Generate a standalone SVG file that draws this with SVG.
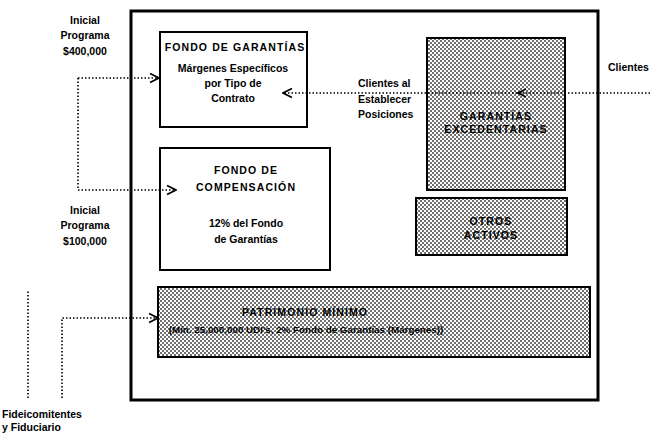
<svg xmlns="http://www.w3.org/2000/svg" width="650" height="441" viewBox="0 0 650 441">
<defs>
<pattern id="chk" width="4" height="4" patternUnits="userSpaceOnUse">
<rect width="4" height="4" fill="#ffffff"/>
<rect x="0" y="0" width="2" height="2" fill="#707070"/>
<rect x="2" y="2" width="2" height="2" fill="#707070"/>
</pattern>
<marker id="arr" viewBox="0 0 10 10" refX="9" refY="5" markerWidth="7" markerHeight="7" orient="auto-start-reverse">
<path d="M1,1 L9,5 L1,9" fill="none" stroke="#000" stroke-width="1.6"/>
</marker>
<style>
text{font-family:"Liberation Sans",Arial,sans-serif;font-weight:bold;font-size:10.5px;fill:#000}
.c{text-anchor:middle}
.cap{letter-spacing:1.1px}
.sm{font-size:9.8px}
.box{fill:#fff;stroke:#000;stroke-width:2}
.pat{fill:url(#chk);stroke:#000;stroke-width:2}
.dot{fill:none;stroke:#000;stroke-width:1.6;stroke-dasharray:1.5 2}
</style>
</defs>
<rect id="outer" x="131" y="11" width="467" height="389" fill="none" stroke="#000" stroke-width="3"/>
<g id="fondo-garantias">
<rect class="box" x="160" y="32" width="147" height="95"/>
<text class="c cap" x="235" y="51">FONDO DE GARANTÍAS</text>
<text class="c" x="233" y="72">Márgenes Específicos</text>
<text class="c" x="233" y="87">por Tipo de</text>
<text class="c" x="233" y="102">Contrato</text>
</g>
<g id="fondo-compensacion">
<rect class="box" x="160" y="148" width="170" height="122"/>
<text class="c cap" x="246" y="174">FONDO DE</text>
<text class="c cap" x="246" y="191">COMPENSACIÓN</text>
<text class="c" x="246" y="227">12% del Fondo</text>
<text class="c" x="246" y="243">de Garantías</text>
</g>
<g id="garantias-excedentarias">
<rect class="pat" x="427" y="38" width="138" height="152"/>
<text class="c cap" x="496" y="120">GARANTÍAS</text>
<text class="c cap" x="496" y="133">EXCEDENTARIAS</text>
</g>
<g id="otros-activos">
<rect class="pat" x="416" y="198" width="151" height="57"/>
<text class="c cap" x="491" y="225">OTROS</text>
<text class="c cap" x="491" y="239">ACTIVOS</text>
</g>
<g id="patrimonio-minimo">
<rect class="pat" x="158" y="287" width="432" height="70"/>
<text class="c cap" x="305" y="316">PATRIMONIO MÍNIMO</text>
<text class="c sm" x="306" y="333">(Mín. 25,000,000 UDI's, 2% Fondo de Garantías (Márgenes))</text>
</g>
<g id="labels">
<text class="c" x="85" y="24">Inicial</text>
<text class="c" x="85" y="39">Programa</text>
<text class="c" x="85" y="55">$400,000</text>
<text class="c" x="85" y="214">Inicial</text>
<text class="c" x="85" y="229">Programa</text>
<text class="c" x="85" y="245">$100,000</text>
<text x="358" y="87">Clientes al</text>
<text x="358" y="103">Establecer</text>
<text x="358" y="118">Posiciones</text>
<text x="608" y="71">Clientes</text>
<text x="2" y="418">Fideicomitentes</text>
<text x="2" y="431">y Fiduciario</text>
</g>
<g id="connectors">
<path class="dot" d="M78,78 H159" marker-end="url(#arr)"/>
<path class="dot" d="M78,78 V190 H176" marker-end="url(#arr)"/>
<path class="dot" d="M650,93 H283" marker-end="url(#arr)"/>
<path d="M526,89 L518,93 L526,97" fill="none" stroke="#000" stroke-width="1.6"/>
<path class="dot" d="M62,398 V318 H158" marker-end="url(#arr)"/>
<path class="dot" d="M28,398 V290"/>
</g>
</svg>
